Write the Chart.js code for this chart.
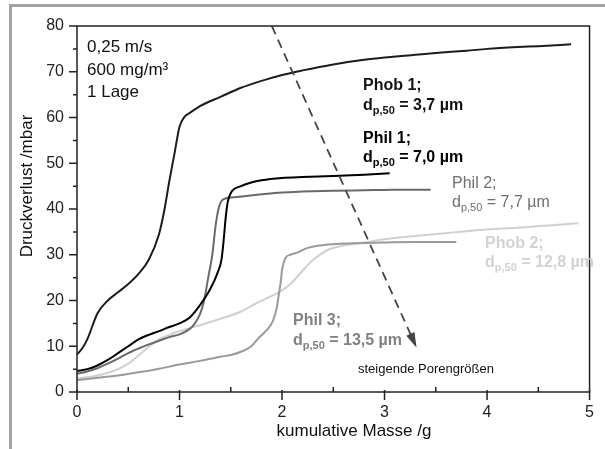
<!DOCTYPE html>
<html>
<head>
<meta charset="utf-8">
<script src="https://cdn.jsdelivr.net/npm/chart.js@4.4.1/dist/chart.umd.min.js"></script>
<style>
  html, body { margin: 0; padding: 0; background: #fff; }
  #wrap { width: 605px; height: 449px; position: relative; }
</style>
</head>
<body>
<div id="wrap"><canvas id="myChart" width="605" height="449"></canvas></div>
<script>
// kumulative Masse /g  -> Druckverlust /mbar
const massPhob1 = [0, 0.05, 0.1, 0.2, 0.3, 0.4, 0.5, 0.6, 0.7, 0.8, 0.85, 0.9, 0.95, 1.0, 1.05, 1.1, 1.2, 1.4, 1.6, 1.8, 2.0, 2.2, 2.5, 2.8, 3.0, 3.3, 3.5, 3.8, 4.0, 4.3, 4.5, 4.82];
const dpPhob1 = [8.2, 9.5, 11.5, 17.2, 20, 21.8, 23.6, 25.8, 28.9, 34.5, 39.5, 46, 52, 58, 60.2, 61, 62.5, 64.5, 66.5, 68, 69.3, 70.3, 71.6, 72.6, 73.1, 73.7, 74.1, 74.6, 75, 75.4, 75.6, 76];

const massPhil1 = [0, 0.1, 0.2, 0.3, 0.4, 0.5, 0.6, 0.7, 0.8, 0.9, 1.0, 1.1, 1.2, 1.3, 1.37, 1.41, 1.43, 1.45, 1.47, 1.5, 1.6, 1.7, 1.8, 2.0, 2.2, 2.5, 2.8, 3.05];
const dpPhil1 = [4.6, 5, 5.8, 7, 8.5, 10, 11.5, 12.5, 13.3, 14.2, 15, 16.3, 19, 22.5, 26, 29, 33, 38, 41.5, 43.5, 45, 45.8, 46.3, 46.8, 47, 47.2, 47.5, 47.8];

const massPhil2 = [0, 0.1, 0.2, 0.3, 0.4, 0.5, 0.6, 0.7, 0.8, 0.9, 1.0, 1.1, 1.15, 1.2, 1.24, 1.28, 1.32, 1.35, 1.38, 1.42, 1.5, 1.63, 1.8, 2.0, 2.2, 2.5, 2.8, 3.1, 3.45];
const dpPhil2 = [4, 4.5, 5.2, 6.2, 7.3, 8.5, 9.5, 10.4, 11.2, 12, 12.6, 13.8, 15, 17, 20, 25, 30, 36, 40, 42, 42.5, 42.8, 43.2, 43.6, 43.8, 44, 44.1, 44.2, 44.2];

const massPhob2 = [0, 0.1, 0.2, 0.3, 0.4, 0.5, 0.6, 0.7, 0.8, 0.9, 1.0, 1.2, 1.4, 1.6, 1.75, 1.9, 2.0, 2.1, 2.2, 2.3, 2.46, 2.6, 2.84, 3.0, 3.3, 3.73, 4.0, 4.3, 4.6, 4.89];
const dpPhob2 = [3, 3.2, 3.6, 4.2, 5, 6.2, 8, 9.9, 11.5, 12.5, 13.3, 14.6, 16, 17.6, 19.4, 21, 22.2, 24, 26.5, 28.8, 31.2, 32, 32.8, 33.4, 34.1, 35, 35.5, 35.9, 36.4, 36.9];

const massPhil3 = [0, 0.2, 0.4, 0.6, 0.8, 1.0, 1.2, 1.4, 1.5, 1.6, 1.7, 1.78, 1.85, 1.91, 1.95, 1.97, 1.99, 2.0, 2.02, 2.04, 2.08, 2.14, 2.25, 2.4, 2.7, 3.0, 3.3, 3.7];
const dpPhil3 = [2.6, 3.1, 3.6, 4.3, 5.1, 6, 6.8, 7.7, 8.1, 8.8, 10, 12, 13.5, 15.5, 18.5, 21.5, 24.5, 26.7, 28.5, 29.5, 30, 30.4, 31.5, 32.1, 32.5, 32.7, 32.8, 32.8];

// Pfeil "steigende Porengrößen"
const arrowMass = [1.9, 3.3];
const arrowDp = [80, 10.3];

const xTicks = [0, 1, 2, 3, 4, 5];
const yTicks = [0, 10, 20, 30, 40, 50, 60, 70, 80];

function pts(xs, ys) {
    return xs.map((x, i) => ({ x: x, y: ys[i] }));
}

function line(data, color, order) {
    return {
        data: data,
        borderColor: color,
        borderWidth: 2,
        pointRadius: 0,
        cubicInterpolationMode: 'monotone',
        fill: false,
        order: order
    };
}

const FONT = '"Liberation Sans", Arial, sans-serif';

// draws a "dp,50 = ..." line with subscript
function dLine(ctx, x, y, value, color, bold) {
    const w = bold ? 'bold ' : '';
    ctx.fillStyle = color;
    ctx.textAlign = 'left';
    ctx.textBaseline = 'alphabetic';
    ctx.font = w + '16px ' + FONT;
    ctx.fillText('d', x, y);
    let dx = ctx.measureText('d').width;
    ctx.font = w + '11px ' + FONT;
    ctx.fillText('p,50', x + dx, y + 4);
    dx += ctx.measureText('p,50').width;
    ctx.font = w + '16px ' + FONT;
    ctx.fillText(' = ' + value + ' \u00b5m', x + dx, y);
}

const extras = {
    id: 'extras',
    beforeDraw(chart) {
        const ctx = chart.ctx;
        ctx.save();
        ctx.fillStyle = '#a3a3a3';
        ctx.fillRect(9, 4, 605 - 9, 3);
        ctx.fillRect(9, 4, 3, 449 - 4);
        ctx.restore();
    },
    afterDraw(chart) {
        const ctx = chart.ctx;
        const xs = chart.scales.x, ys = chart.scales.y;
        const a = chart.chartArea;
        ctx.save();

        // frame
        ctx.strokeStyle = '#222';
        ctx.lineWidth = 1.5;
        ctx.strokeRect(a.left, a.top, a.right - a.left, a.bottom - a.top);

        // ticks
        ctx.lineWidth = 1.5;
        ctx.beginPath();
        for (let v = 0; v <= 80; v += 5) {
            const py = ys.getPixelForValue(v);
            const len = v % 10 === 0 ? 8 : 4;
            ctx.moveTo(a.left - len, py);
            ctx.lineTo(a.left, py);
        }
        for (let v = 0; v <= 5; v += 0.5) {
            const px = xs.getPixelForValue(v);
            if (v % 1 === 0) {
                ctx.moveTo(px, a.bottom - 2);
                ctx.lineTo(px, a.bottom + 8);
            } else {
                ctx.moveTo(px, a.bottom - 5);
                ctx.lineTo(px, a.bottom);
            }
        }
        ctx.stroke();

        // arrow head
        const x1 = xs.getPixelForValue(arrowMass[0]), y1 = ys.getPixelForValue(arrowDp[0]);
        const x2 = xs.getPixelForValue(arrowMass[1]), y2 = ys.getPixelForValue(arrowDp[1]);
        const ang = Math.atan2(y2 - y1, x2 - x1);
        ctx.fillStyle = '#444';
        ctx.beginPath();
        ctx.moveTo(x2 + 3 * Math.cos(ang), y2 + 3 * Math.sin(ang));
        ctx.lineTo(x2 - 12 * Math.cos(ang) + 4.5 * Math.sin(ang), y2 - 12 * Math.sin(ang) - 4.5 * Math.cos(ang));
        ctx.lineTo(x2 - 12 * Math.cos(ang) - 4.5 * Math.sin(ang), y2 - 12 * Math.sin(ang) + 4.5 * Math.cos(ang));
        ctx.closePath();
        ctx.fill();

        // axis titles
        ctx.fillStyle = '#111';
        ctx.font = '17px ' + FONT;
        ctx.textAlign = 'center';
        ctx.textBaseline = 'middle';
        ctx.fillText('kumulative Masse /g', 354, 431);
        ctx.save();
        ctx.translate(27, 186);
        ctx.rotate(-Math.PI / 2);
        ctx.fillText('Druckverlust /mbar', 0, 0);
        ctx.restore();

        // condition text
        ctx.textAlign = 'left';
        ctx.textBaseline = 'alphabetic';
        ctx.font = '17px ' + FONT;
        ctx.fillText('0,25 m/s', 87, 52);
        ctx.fillText('600 mg/m\u00b3', 87, 75);
        ctx.fillText('1 Lage', 87, 97);

        // labels
        ctx.font = 'bold 16px ' + FONT;
        ctx.fillStyle = '#111';
        ctx.fillText('Phob 1;', 363, 90);
        dLine(ctx, 363, 110, '3,7', '#111', true);
        ctx.font = 'bold 16px ' + FONT;
        ctx.fillStyle = '#000';
        ctx.fillText('Phil 1;', 363, 143);
        dLine(ctx, 363, 162, '7,0', '#000', true);
        ctx.font = '16px ' + FONT;
        ctx.fillStyle = '#6e6e6e';
        ctx.fillText('Phil 2;', 452, 188);
        dLine(ctx, 452, 207, '7,7', '#6e6e6e', false);
        ctx.font = 'bold 16px ' + FONT;
        ctx.fillStyle = '#d2d2d2';
        ctx.fillText('Phob 2;', 485, 248);
        dLine(ctx, 485, 267, '12,8', '#d2d2d2', true);
        ctx.font = 'bold 16px ' + FONT;
        ctx.fillStyle = '#808080';
        ctx.fillText('Phil 3;', 293, 325);
        dLine(ctx, 293, 345, '13,5', '#808080', true);

        ctx.font = '13px ' + FONT;
        ctx.fillStyle = '#111';
        ctx.fillText('steigende Porengr\u00f6\u00dfen', 358, 373);

        ctx.restore();
    }
};

var canvas = document.getElementById('myChart');
var ctx = canvas.getContext('2d');

var arrowSet = line(pts(arrowMass, arrowDp), '#444', 0);
arrowSet.borderDash = [9, 6];
arrowSet.borderWidth = 1.8;

var chart = new Chart(ctx, {
    type: 'line',
    data: {
        datasets: [
            arrowSet,
            line(pts(massPhob1, dpPhob1), '#1c1c1c', 1),
            line(pts(massPhil1, dpPhil1), '#000000', 2),
            line(pts(massPhil2, dpPhil2), '#6a6a6a', 3),
            line(pts(massPhil3, dpPhil3), '#9a9a9a', 4),
            line(pts(massPhob2, dpPhob2), '#d0d0d0', 5)
        ]
    },
    options: {
        responsive: false,
        animation: false,
        layout: { padding: { left: 0, right: 6, top: 26, bottom: 0 } },
        plugins: {
            legend: { display: false },
            tooltip: { enabled: false }
        },
        scales: {
            x: {
                type: 'linear',
                min: 0,
                max: 5,
                afterFit: function (s) { s.height = 57; },
                afterBuildTicks: function (s) { s.ticks = xTicks.map(v => ({ value: v })); },
                grid: { display: false, drawTicks: false },
                border: { display: false },
                ticks: { padding: 11, color: '#222', font: { family: FONT, size: 16 } }
            },
            y: {
                min: 0,
                max: 80,
                afterFit: function (s) { s.width = 77; },
                afterBuildTicks: function (s) { s.ticks = yTicks.map(v => ({ value: v })); },
                grid: { display: false, drawTicks: false },
                border: { display: false },
                ticks: { padding: 13, color: '#222', font: { family: FONT, size: 16 } }
            }
        }
    },
    plugins: [extras]
});
</script>
</body>
</html>
